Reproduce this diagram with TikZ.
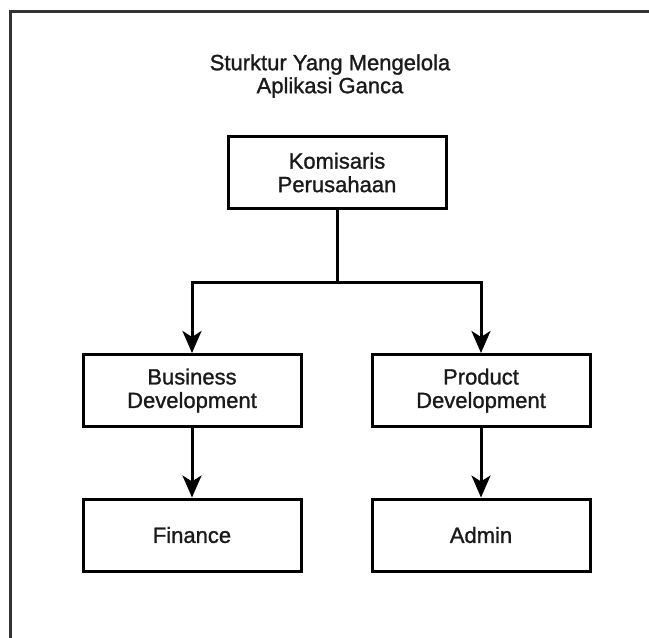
\documentclass[tikz,border=0pt]{standalone}
\usepackage{fontspec}
\setmainfont{Liberation Sans}[FakeBold=1.2]
\usetikzlibrary{arrows.meta}
\definecolor{framegray}{HTML}{333333}
\definecolor{txt}{HTML}{1A1A1A}
\begin{document}
\begin{tikzpicture}[x=1pt,y=-1pt,
  box/.style={draw=black, line width=3pt, minimum width=218pt, minimum height=72pt,
    inner sep=0pt, align=center, text=txt,
    font=\fontsize{22}{23.5}\selectfont},
  conn/.style={draw=black, line width=3pt},
  arr/.style={conn, -{Stealth[length=22pt, width=19pt, inset=6pt]}},
  titletext/.style={align=center, text=txt, inner sep=0pt,
    font=\fontsize{22}{23}\selectfont}]
  \useasboundingbox (0,0) rectangle (649,638);
  \fill[white] (0,0) rectangle (649,638);
  \begin{scope}
    \clip (0,0) rectangle (649,638);
    \draw[framegray, line width=3.5pt] (10.5,700) -- (10.5,11.5) -- (700,11.5);
  \end{scope}
  \node[titletext] (title) at (330,76) {Sturktur Yang Mengelola\\Aplikasi Ganca};
  \node[box] (kom) at (337,172.5) {Komisaris\\Perusahaan};
  \node[box] (bus) at (192,390.5) {Business\\Development};
  \node[box] (prod) at (481,390.5) {Product\\Development};
  \node[box] (fin) at (192,535) {Finance};
  \node[box] (adm) at (481,535) {Admin};
  \coordinate (split) at (337,282);
  \draw[conn] (kom.south) -- (split);
  \draw[arr] (split) -| (bus.north);
  \draw[arr] (split) -| (prod.north);
  \draw[arr] (bus) -- (fin);
  \draw[arr] (prod) -- (adm);
\end{tikzpicture}
\end{document}
